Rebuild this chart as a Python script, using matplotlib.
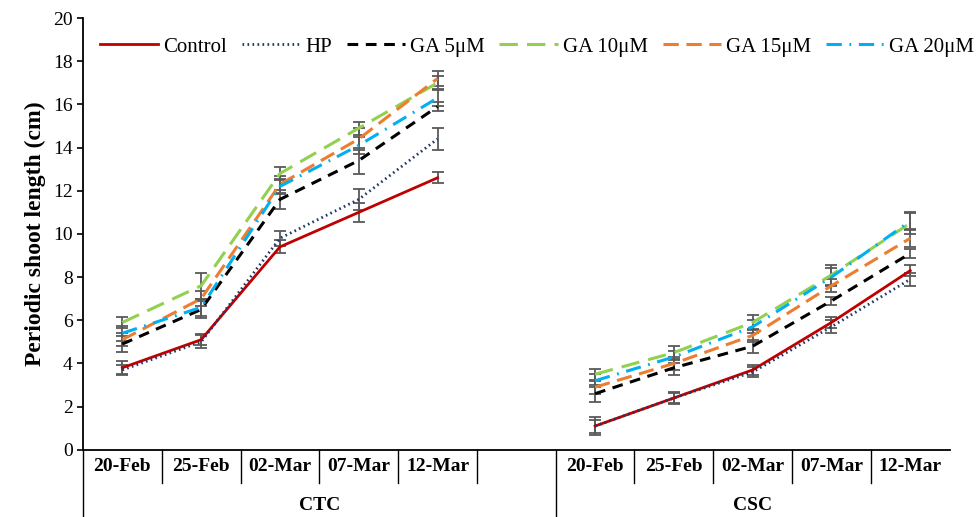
import matplotlib
matplotlib.use("Agg")
import matplotlib.pyplot as plt

plt.rcParams['font.family'] = ['Liberation Serif', 'DejaVu Serif']

# categories
dates = ['20-Feb', '25-Feb', '02-Mar', '07-Mar', '12-Mar']
groups = ['CTC', 'CSC']

# values: first 5 = CTC, last 5 = CSC
control = [3.8, 5.1, 9.4, 11.0, 12.6, 1.1, 2.4, 3.7, 5.9, 8.3]
hp = [3.7, 5.0, 9.8, 11.6, 14.4, 1.1, 2.4, 3.6, 5.7, 7.9]
ga5 = [4.9, 6.5, 11.6, 13.4, 15.9, 2.6, 3.8, 4.8, 6.9, 9.1]
ga10 = [5.9, 7.6, 12.8, 14.9, 17.0, 3.5, 4.5, 5.9, 8.1, 10.5]
ga15 = [5.1, 7.0, 12.3, 14.4, 17.2, 2.9, 4.0, 5.3, 7.6, 9.8]
ga20 = [5.4, 6.6, 12.2, 14.1, 16.3, 3.2, 4.3, 5.7, 8.0, 10.6]

# standard errors
control_err = [0.3, 0.25, 0.3, 0.45, 0.25, 0.4, 0.3, 0.25, 0.25, 0.25]
hp_err = [0.25, 0.3, 0.35, 0.5, 0.5, 0.3, 0.25, 0.25, 0.3, 0.3]
ga5_err = [0.35, 0.4, 0.45, 0.6, 0.2, 0.4, 0.35, 0.3, 0.2, 0.2]
ga10_err = [0.25, 0.6, 0.3, 0.3, 0.3, 0.25, 0.3, 0.35, 0.45, 0.5]
ga15_err = [0.3, 0.35, 0.4, 0.5, 0.35, 0.3, 0.3, 0.3, 0.3, 0.4]
ga20_err = [0.35, 0.4, 0.35, 0.4, 0.35, 0.3, 0.3, 0.3, 0.4, 0.35]

series = [
    ('Control', control, control_err, dict(color='#C00000', linestyle='-', lw=2.0)),
    ('HP', hp, hp_err, dict(color='#203864', linestyle=(0, (0.6, 1.2)), lw=2.0)),
    ('GA 5\u03bcM', ga5, ga5_err, dict(color='black', linestyle=(0, (3.5, 2.5)), lw=2.2)),
    ('GA 10\u03bcM', ga10, ga10_err, dict(color='#92D050', linestyle=(0, (6, 3)), lw=2.2)),
    ('GA 15\u03bcM', ga15, ga15_err, dict(color='#ED7D31', linestyle=(0, (5, 2.5)), lw=2.2)),
    ('GA 20\u03bcM', ga20, ga20_err, dict(color='#00B0F0', linestyle=(0, (5, 2.5, 0.6, 2.5)), lw=2.2)),
]

ctc_x = [0.5, 1.5, 2.5, 3.5, 4.5]
csc_x = [6.5, 7.5, 8.5, 9.5, 10.5]

fig = plt.figure(figsize=(9.76, 5.17), dpi=100)
ax = fig.add_axes([0.085, 0.13, 0.888, 0.835])

for name, vals, errs, style in series:
    for xs, sl in ((ctc_x, slice(0, 5)), (csc_x, slice(5, 10))):
        ax.errorbar(xs, vals[sl], yerr=errs[sl], fmt='none', ecolor='#595959',
                    elinewidth=1.3, capsize=4, capthick=1.3, zorder=2)
    ax.plot(ctc_x, vals[:5], label=name, zorder=3, **style)
    ax.plot(csc_x, vals[5:], zorder=3, **style)

ax.set_xlim(0, 11)
ax.set_ylim(0, 20)
ax.set_yticks(range(0, 21, 2))
ax.tick_params(axis='y', labelsize=14, direction='out', length=4, width=1.2)
ax.set_xticks([])
for s in ['top', 'right']:
    ax.spines[s].set_visible(False)
ax.spines['left'].set_linewidth(1.3)
ax.spines['bottom'].set_linewidth(1.3)
ax.set_ylabel('Periodic shoot length (cm)', fontsize=17, fontweight='bold', labelpad=5)

# multi-level category axis
trans = ax.get_xaxis_transform()
row1 = -0.077
row2 = -0.155
for b in [1, 2, 3, 4, 5, 7, 8, 9, 10]:
    ax.plot([b, b], [0, row1], transform=trans, color='black', lw=1.0, clip_on=False)
for b in [0, 6]:
    ax.plot([b, b], [0, row2], transform=trans, color='black', lw=1.0, clip_on=False)
for i, d in enumerate(dates):
    ax.text(ctc_x[i], row1 / 2, d, transform=trans, ha='center', va='center',
            fontsize=14, fontweight='bold')
    ax.text(csc_x[i], row1 / 2, d, transform=trans, ha='center', va='center',
            fontsize=14, fontweight='bold')
ax.text(3.0, -0.128, groups[0], transform=trans, ha='center', va='center',
        fontsize=14, fontweight='bold')
ax.text(8.5, -0.128, groups[1], transform=trans, ha='center', va='center',
        fontsize=14, fontweight='bold')

ax.legend(loc='upper left', bbox_to_anchor=(0.005, 0.985), ncol=6, frameon=False,
          fontsize=15, handlelength=2.8, columnspacing=0.7, handletextpad=0.25,
          borderaxespad=0.2)

fig.savefig('out.png', dpi=100)
